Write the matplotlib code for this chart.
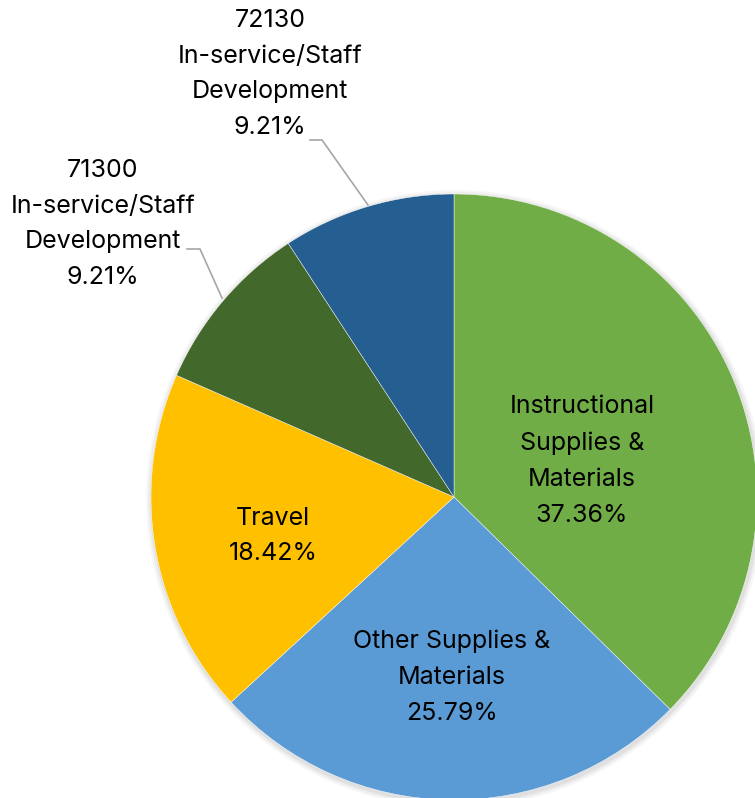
import matplotlib.pyplot as plt

# Data
categories = ["Instructional\nSupplies &\nMaterials", "Other Supplies &\nMaterials", "Travel",
              "71300\nIn-service/Staff\nDevelopment", "72130\nIn-service/Staff\nDevelopment"]
values = [37.36, 25.79, 18.42, 9.21, 9.21]
colors = ["#70AD47", "#5B9BD5", "#FFC000", "#43682B", "#255E91"]

plt.rcParams['font.family'] = ['Inter', 'DejaVu Sans']

W, H = 755, 798
fig = plt.figure(figsize=(W / 100, H / 100), dpi=100)
ax = fig.add_axes([0, 0, 1, 1])

cx, cy, r = 454, H - 497, 303

# soft shadow under the pie
for i, a in enumerate([0.05, 0.04, 0.03]):
    ax.add_patch(plt.Circle((cx + 1, cy - 2), r + 2 + i * 2, color='black', alpha=a, lw=0, zorder=0))

wedges, _ = ax.pie(values, colors=colors, startangle=90, counterclock=False,
                   center=(cx, cy), radius=r, frame=True,
                   wedgeprops=dict(linewidth=0.3, edgecolor='white'))
ax.set_xlim(0, W)
ax.set_ylim(0, H)
ax.set_aspect('equal')
ax.axis('off')

fs = 18
ls = 1.72
# inside labels (pixel positions from top)
inside = [(582, 461), (452, 677), (273, 536)]
for i, (x, y) in enumerate(inside):
    ax.text(x, H - y, f"{categories[i]}\n{values[i]:.2f}%", ha='center', va='center',
            fontsize=fs, linespacing=ls, color='black')

# outside labels with leader lines
outside = [(103, 224), (270, 74)]
leaders = [[(187, 249), (200, 249), (222, 298)], [(310, 140), (322, 140), (368, 205)]]
for j, ((x, y), pts) in enumerate(zip(outside, leaders)):
    i = 3 + j
    ax.text(x, H - y, f"{categories[i]}\n{values[i]:.2f}%", ha='center', va='center',
            fontsize=fs, linespacing=ls, color='black')
    ax.plot([p[0] for p in pts], [H - p[1] for p in pts], color='#A6A6A6', lw=1.2, zorder=1)

fig.savefig("out.png", dpi=100)
